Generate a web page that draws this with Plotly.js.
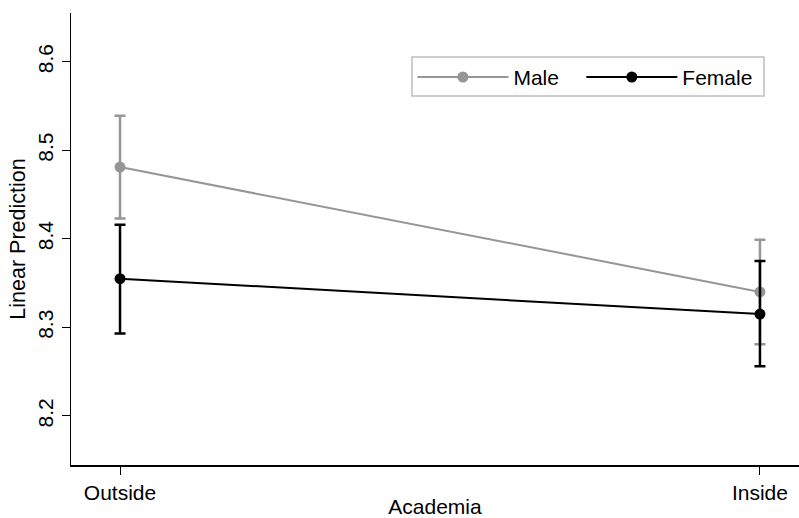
<!DOCTYPE html>
<html>
<head>
<meta charset="utf-8">
<script src="https://cdn.plot.ly/plotly-3.0.1.min.js"></script>
<style>html,body{margin:0;padding:0;background:#fff;}#chart{width:799px;height:518px;}</style>
</head>
<body>
<div id="chart"></div>
<script>
const categories = ["Outside", "Inside"];
const maleValues = [8.481, 8.340];
const maleUpper = [8.539, 8.399];
const maleLower = [8.423, 8.281];
const femaleValues = [8.355, 8.315];
const femaleUpper = [8.416, 8.375];
const femaleLower = [8.293, 8.256];
const yTicks = [8.2, 8.3, 8.4, 8.5, 8.6];
const gridTicks = [8.2, 8.3, 8.4, 8.5];

function mk(name, vals, up, lo, color, legendId) {
  return {
    type: 'scatter', mode: 'lines+markers', name: name, legend: legendId,
    x: categories, y: vals,
    line: {color: color, width: 2},
    marker: {color: color, size: 11},
    error_y: {type: 'data', symmetric: false,
      array: vals.map((v, i) => up[i] - v),
      arrayminus: vals.map((v, i) => v - lo[i]),
      color: color, thickness: 2.5, width: 5.5}
  };
}

const data = [
  mk('Male', maleValues, maleUpper, maleLower, '#969696', 'legend'),
  mk('Female', femaleValues, femaleUpper, femaleLower, '#000000', 'legend2')
];

const yRange = [8.1446, 8.655];
const legendCommon = {orientation: 'h', yanchor: 'top', xanchor: 'left', y: 0.903,
  borderwidth: 0, bgcolor: 'rgba(0,0,0,0)', font: {size: 21}, itemwidth: 91};

const layout = {
  width: 799, height: 518,
  margin: {l: 71, r: 0, t: 13, b: 53, autoexpand: false},
  paper_bgcolor: '#fff', plot_bgcolor: '#fff',
  font: {family: 'Liberation Sans, Arial, sans-serif', size: 21, color: '#000'},
  showlegend: true,
  legend: Object.assign({}, legendCommon, {x: 0.469}),
  legend2: Object.assign({}, legendCommon, {x: 0.701}),
  shapes: [{type: 'rect', xref: 'paper', yref: 'paper',
    x0: 0.4684, x1: 0.9519, y0: 0.8164, y1: 0.9027,
    fillcolor: '#fff', line: {color: '#bfbfbf', width: 1.5}, layer: 'above'}],
  xaxis: {
    type: 'category', range: [-0.0766, 1.061],
    showline: true, linecolor: '#000', linewidth: 1.5,
    ticks: 'outside', ticklen: 8, tickcolor: '#000', tickwidth: 1,
    showgrid: false, zeroline: false,
    title: {text: 'Academia', font: {size: 21}, standoff: 2},
    tickfont: {size: 21}
  },
  yaxis: {
    range: yRange,
    tickvals: yTicks, ticktext: yTicks.map(v => v.toFixed(1)),
    tickangle: -90,
    showline: true, linecolor: '#000', linewidth: 1.5,
    ticks: 'outside', ticklen: 8, tickcolor: '#000', tickwidth: 1,
    showgrid: false, zeroline: false,
    title: {text: 'Linear Prediction', font: {size: 21.5}, standoff: 2},
    tickfont: {size: 21}
  },
  yaxis2: {
    overlaying: 'y', range: yRange, tickvals: gridTicks,
    showticklabels: false, ticks: '', showline: false, zeroline: false,
    showgrid: true, gridcolor: '#eaf2f3', gridwidth: 1.5
  }
};

Plotly.newPlot('chart', data, layout, {displayModeBar: false, staticPlot: true});
</script>
</body>
</html>
